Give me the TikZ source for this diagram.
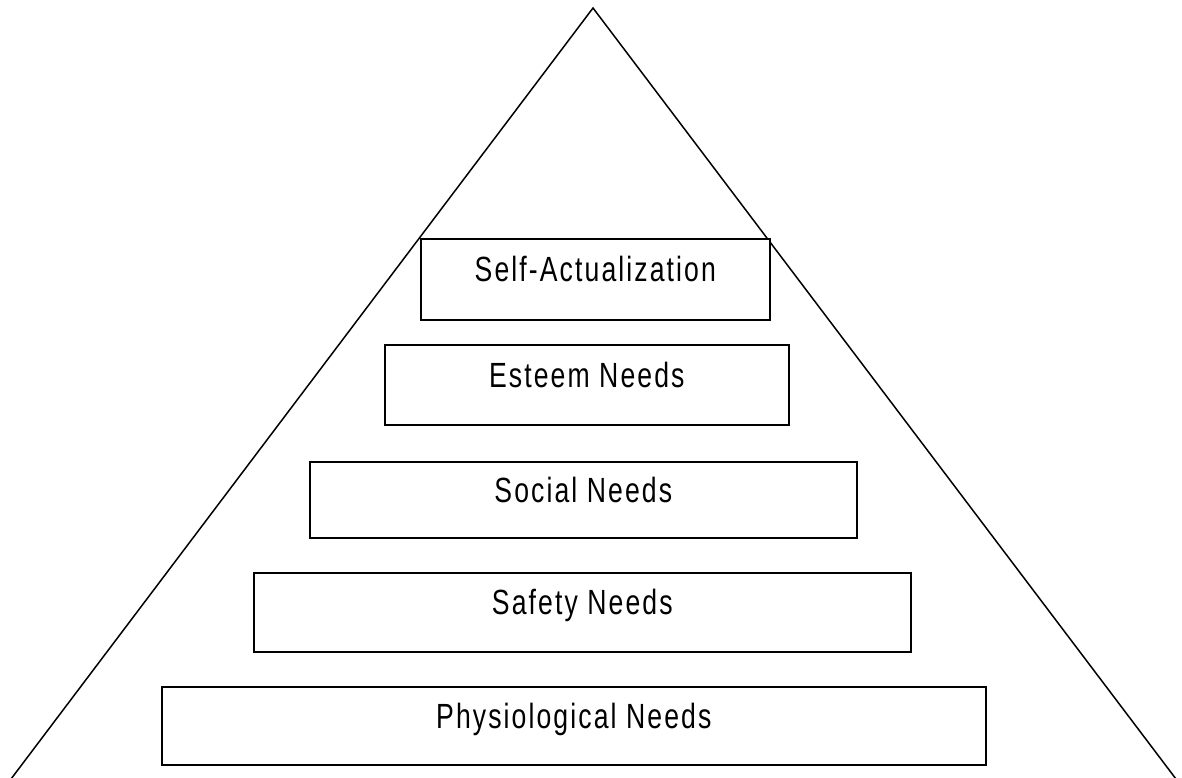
\documentclass[tikz,border=0pt]{standalone}
\usepackage{fontspec}
\setmainfont{Liberation Sans}[FakeStretch=0.76,LetterSpace=6]
\begin{document}
\begin{tikzpicture}[x=1pt,y=-1pt,
  line/.style={line width=1.5pt,black},
  levelbox/.style={draw=black,line width=1.6pt,fill=white,rectangle,inner sep=0pt,anchor=north west},
  lbl/.style={font=\fontsize{35}{40}\selectfont,anchor=base,inner sep=0pt}]
\useasboundingbox (0,0) rectangle (1182,777);
\coordinate (apex) at (593,8);
\coordinate (bl) at (11,779);
\coordinate (br) at (1176,779);
\draw[line] (bl) -- (apex) -- (br);
\node[levelbox,minimum width=349pt,minimum height=81pt] (sa) at (420,238) {};
\node[levelbox,minimum width=404pt,minimum height=80pt] (es) at (384,344) {};
\node[levelbox,minimum width=547pt,minimum height=76pt] (so) at (309,461) {};
\node[levelbox,minimum width=657pt,minimum height=79pt] (sf) at (253,572) {};
\node[levelbox,minimum width=824pt,minimum height=78pt] (ph) at (161,686) {};
\node[lbl] at ([yshift=-43pt]sa.north) {Self-Actualization};
\node[lbl] at ([yshift=-43pt]es.north) {Esteem Needs};
\node[lbl] at ([yshift=-41pt]so.north) {Social Needs};
\node[lbl] at ([yshift=-42pt]sf.north) {Safety Needs};
\node[lbl] at ([yshift=-42pt]ph.north) {Physiological Needs};
\end{tikzpicture}
\end{document}
